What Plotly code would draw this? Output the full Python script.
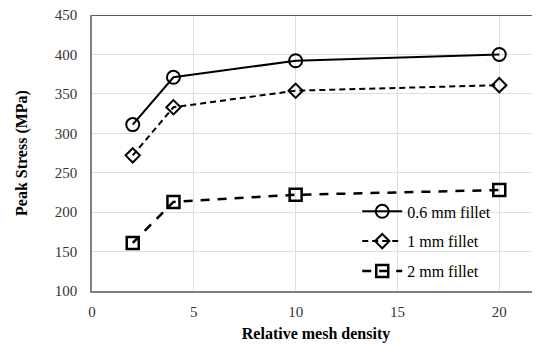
import plotly.graph_objects as go

density = [2, 4, 10, 20]
s06 = [311, 371, 392, 400]
s1 = [272, 333, 354, 361]
s2 = [161, 213, 222, 228]
names = ["0.6 mm fillet", "1 mm fillet", "2 mm fillet"]

fig = go.Figure()
fig.add_trace(go.Scatter(x=density, y=s06, name=names[0], mode="lines+markers", legendgroup="a",
                         line=dict(color="black", width=2),
                         marker=dict(symbol="circle-open", size=13, color="black", line=dict(width=2))))
fig.add_trace(go.Scatter(x=density, y=s1, name=names[1], mode="lines+markers", legendgroup="b",
                         line=dict(color="black", width=2, dash="6px,4px"),
                         marker=dict(symbol="diamond-open", size=11, color="black", line=dict(width=2))))
fig.add_trace(go.Scatter(x=density, y=s2, name=names[2], mode="lines+markers", legendgroup="c",
                         line=dict(color="black", width=2.5, dash="9px,8px"),
                         marker=dict(symbol="square-open", size=12, color="black", line=dict(width=2.5))))

font = "Liberation Serif, Times New Roman, serif"
fig.update_layout(
    width=532, height=336,
    margin=dict(l=84, r=0, t=7, b=53),
    paper_bgcolor="white", plot_bgcolor="white",
    font=dict(family=font, size=13, color="#333"),
    showlegend=True,
    legend=dict(x=0.592, y=0.35, xanchor="left", yanchor="top",
                bgcolor="rgba(0,0,0,0)", font=dict(family=font, size=16, color="black"),
                tracegroupgap=6, itemwidth=40),
    xaxis=dict(range=[0, 22], tickvals=[0, 5, 10, 15, 20], showgrid=True, gridcolor="#dedede",
               showline=True, linecolor="#808080", linewidth=1.5, ticks="", zeroline=False,
               ticklabelstandoff=6, ticklabeloverflow="allow",
               title=dict(text="<b>Relative mesh density</b>", font=dict(family=font, size=16, color="black"), standoff=9),
               tickfont=dict(family=font, size=15, color="#333"), automargin=False),
    yaxis=dict(range=[100, 450], tickvals=[100, 150, 200, 250, 300, 350, 400, 450], showgrid=True,
               gridcolor="#dedede", showline=True, linecolor="#808080", linewidth=1.5, ticks="",
               zeroline=False, ticklabelstandoff=10, ticklabeloverflow="allow",
               title=dict(text="<b>Peak Stress (MPa)</b>", font=dict(family=font, size=16, color="black"), standoff=23),
               tickfont=dict(family=font, size=15, color="#333"), automargin=False),
)
fig.add_shape(type="line", xref="paper", yref="y", x0=0, x1=1, y0=450, y1=450,
              line=dict(color="#595959", width=2))
fig.write_html("out.html")
